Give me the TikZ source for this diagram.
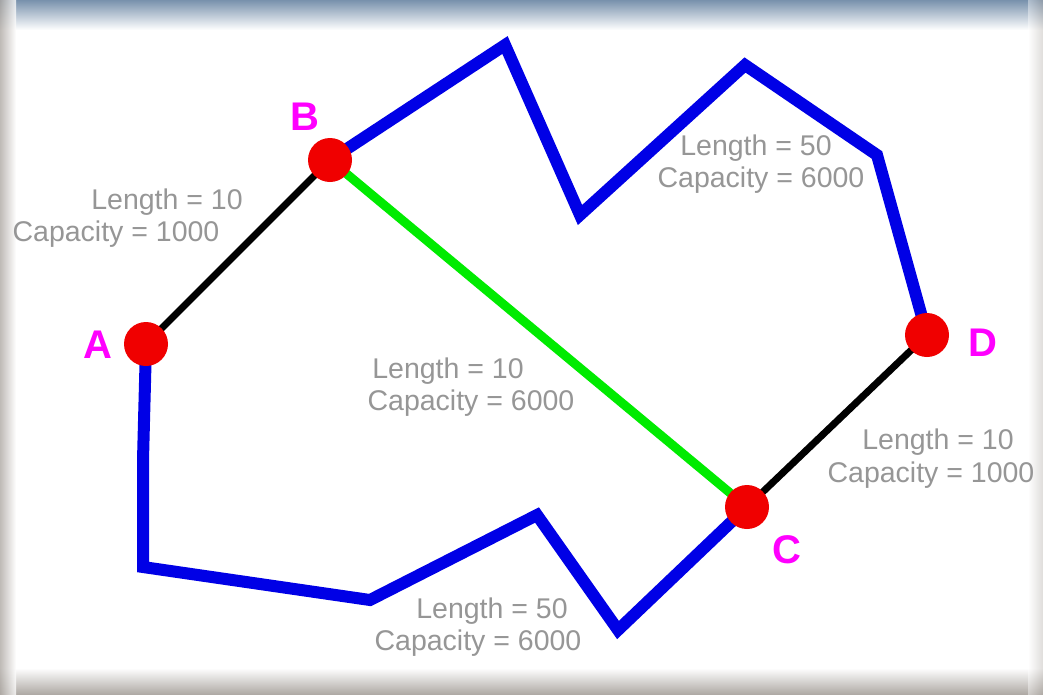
\documentclass[tikz,border=0pt]{standalone}
\usepackage{fontspec}
\setmainfont{Liberation Sans}
\begin{document}
\begin{tikzpicture}[x=1pt,y=-1pt,
  vertex/.style={circle,fill=nodered,minimum size=44pt,inner sep=0pt},
  vlabel/.style={text=labelmag,font=\fontsize{40}{44}\selectfont\bfseries,inner sep=0pt},
  info/.style={text=infogray,font=\fontsize{28.5}{32}\selectfont,inner sep=0pt},
  route/.style={draw=routeblue,line width=12pt,line join=miter},
  link/.style={draw=black,line width=7pt},
  direct/.style={draw=directgreen,line width=9pt}]
\definecolor{infogray}{RGB}{150,150,150}
\definecolor{routeblue}{RGB}{0,0,230}
\definecolor{directgreen}{RGB}{0,235,0}
\definecolor{nodered}{RGB}{240,0,0}
\definecolor{labelmag}{RGB}{255,0,255}
\definecolor{framebl}{RGB}{120,145,172}
\definecolor{framegr}{RGB}{175,170,165}
\useasboundingbox (0,0) rectangle (1043,694);
\fill[white] (0,0) rectangle (1043,694);
\shade[top color=framebl,bottom color=white] (0,0) rectangle (1043,30);
\shade[top color=white,bottom color=framegr] (0,668) rectangle (1043,694);
\shade[left color=framegr,right color=white,opacity=0.8] (0,0) rectangle (16,694);
\shade[left color=white,right color=framegr,opacity=0.4] (1028,0) rectangle (1043,694);

% coordinates of route bends
\coordinate (p1) at (505,45);
\coordinate (p2) at (580,215);
\coordinate (p3) at (745,65);
\coordinate (p4) at (877,155);
\coordinate (q1) at (143,460);
\coordinate (q2) at (143,567);
\coordinate (q3) at (370,600);
\coordinate (q4) at (537,515);
\coordinate (q5) at (618,630);

\coordinate (A) at (146,344);
\coordinate (B) at (330,160);
\coordinate (C) at (747,507);
\coordinate (D) at (927,335);

\draw[route] (B) -- (p1) -- (p2) -- (p3) -- (p4) -- (D);
\draw[route] (A) -- (q1) -- (q2) -- (q3) -- (q4) -- (q5) -- (C);
\draw[link] (A) -- (B);
\draw[link] (C) -- (D);
\draw[direct] (B) -- (C);

\node[vertex] (nA) at (A) {};
\node[vertex] (nB) at (B) {};
\node[vertex] (nC) at (C) {};
\node[vertex] (nD) at (D) {};

\node[vlabel] (lA) at (98,345) {A};
\node[vlabel] (lB) at (305,117) {B};
\node[vlabel] (lC) at (787,550) {C};
\node[vlabel] (lD) at (983,343) {D};

\node[info] (t1a) at (167,202) {Length = 10};
\node[info] (t1b) at (116,234) {Capacity = 1000};
\node[info] (t2a) at (756,148) {Length = 50};
\node[info] (t2b) at (761,180) {Capacity = 6000};
\node[info] (t3a) at (448,371) {Length = 10};
\node[info] (t3b) at (471,403) {Capacity = 6000};
\node[info] (t4a) at (938,442) {Length = 10};
\node[info] (t4b) at (931,475) {Capacity = 1000};
\node[info] (t5a) at (492,611) {Length = 50};
\node[info] (t5b) at (478,643) {Capacity = 6000};
\end{tikzpicture}
\end{document}
